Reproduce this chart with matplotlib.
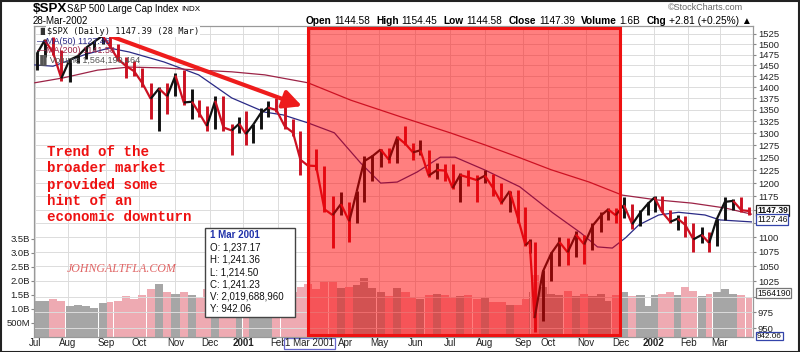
import numpy as np
import matplotlib
matplotlib.use("Agg")
import matplotlib.pyplot as plt
from matplotlib.patches import Rectangle
from matplotlib.collections import LineCollection
from matplotlib.ticker import FixedLocator, NullLocator
import matplotlib.transforms as mtransforms

plt.rcParams['font.family'] = ['Liberation Sans', 'DejaVu Sans']

# ---------------- data ----------------
HOLIDAYS = ['2000-07-04', '2000-09-04', '2000-11-23', '2000-12-25', '2001-01-01',
            '2001-01-15', '2001-02-19', '2001-04-13', '2001-05-28', '2001-07-04',
            '2001-09-03', '2001-09-11', '2001-09-12', '2001-09-13', '2001-09-14',
            '2001-11-22', '2001-12-25', '2002-01-01', '2002-01-21', '2002-02-18',
            '2002-03-29']
FIRST_DAY = '2000-07-03'
prior_close = 1454.60

week_end = ['2000-07-07', '2000-07-14', '2000-07-21', '2000-07-28', '2000-08-04', '2000-08-11',
            '2000-08-18', '2000-08-25', '2000-09-01', '2000-09-08', '2000-09-15', '2000-09-22',
            '2000-09-29', '2000-10-06', '2000-10-13', '2000-10-20', '2000-10-27', '2000-11-03',
            '2000-11-10', '2000-11-17', '2000-11-24', '2000-12-01', '2000-12-08', '2000-12-15',
            '2000-12-22', '2000-12-29',
            '2001-01-05', '2001-01-12', '2001-01-19', '2001-01-26', '2001-02-02', '2001-02-09',
            '2001-02-16', '2001-02-23', '2001-03-02', '2001-03-09', '2001-03-16', '2001-03-23',
            '2001-03-30', '2001-04-06', '2001-04-12', '2001-04-20', '2001-04-27', '2001-05-04',
            '2001-05-11', '2001-05-18', '2001-05-25', '2001-06-01', '2001-06-08', '2001-06-15',
            '2001-06-22', '2001-06-29', '2001-07-06', '2001-07-13', '2001-07-20', '2001-07-27',
            '2001-08-03', '2001-08-10', '2001-08-17', '2001-08-24', '2001-08-31', '2001-09-07',
            '2001-09-10', '2001-09-21', '2001-09-28', '2001-10-05', '2001-10-12', '2001-10-19',
            '2001-10-26', '2001-11-02', '2001-11-09', '2001-11-16', '2001-11-23', '2001-11-30',
            '2001-12-07', '2001-12-14', '2001-12-21', '2001-12-28',
            '2002-01-04', '2002-01-11', '2002-01-18', '2002-01-25', '2002-02-01', '2002-02-08',
            '2002-02-15', '2002-02-22', '2002-03-01', '2002-03-08', '2002-03-15', '2002-03-22',
            '2002-03-28']

week_high = [1482, 1512, 1517, 1487, 1465, 1475, 1494, 1509, 1525, 1530, 1500, 1470,
             1460, 1445, 1410, 1400, 1410, 1433, 1440, 1395, 1372, 1358, 1380, 1380,
             1320, 1335,
             1347, 1320, 1355, 1370, 1376, 1360, 1330, 1305, 1265, 1268, 1233, 1175,
             1183, 1165, 1185, 1253, 1255, 1268, 1270, 1294, 1316, 1280, 1287, 1265,
             1240, 1238, 1237, 1219, 1225, 1215, 1226, 1218, 1200, 1185, 1187, 1155,
             1097, 1092, 1043, 1075, 1100, 1099, 1111, 1104, 1125, 1145, 1152, 1152,
             1173, 1160, 1150, 1165,
             1176, 1176, 1150, 1140, 1138, 1125, 1118, 1110, 1132, 1173, 1170, 1174,
             1154]
week_low = [1440, 1470, 1475, 1413, 1412, 1455, 1465, 1487, 1500, 1490, 1460, 1420,
            1425, 1400, 1330, 1305, 1340, 1380, 1360, 1330, 1335, 1305, 1310, 1305,
            1255, 1300,
            1275, 1280, 1310, 1335, 1345, 1310, 1295, 1215, 1215, 1225, 1145, 1081,
            1140, 1091, 1125, 1165, 1205, 1232, 1240, 1240, 1275, 1245, 1255, 1212,
            1208, 1205, 1188, 1165, 1195, 1165, 1200, 1175, 1160, 1145, 1125, 1085,
            1072, 944, 962, 1026, 1050, 1052, 1065, 1054, 1078, 1110, 1130, 1125,
            1135, 1115, 1120, 1140,
            1145, 1145, 1125, 1112, 1100, 1075, 1090, 1075, 1085, 1130, 1150, 1145,
            1140]
week_close = [1478.9, 1509.9, 1480.2, 1419.9, 1462.9, 1471.8, 1491.7, 1506.5, 1520.8, 1494.5,
              1465.8, 1448.7, 1436.5, 1408.9, 1374.2, 1396.9, 1379.6, 1426.7, 1366.0, 1367.7,
              1341.8, 1315.2, 1369.9, 1312.2, 1305.9, 1320.3,
              1298.4, 1318.3, 1342.5, 1354.9, 1349.5, 1314.8, 1301.5, 1245.9, 1234.2, 1233.4,
              1150.5, 1139.8, 1160.3, 1128.4, 1183.5, 1243.0, 1253.1, 1266.6, 1245.7, 1292.0,
              1277.9, 1260.7, 1265.0, 1214.4, 1225.4, 1224.4, 1190.6, 1215.7, 1210.9, 1205.8,
              1214.4, 1190.2, 1162.0, 1184.9, 1133.6, 1085.8, 1092.5, 965.8, 1040.9, 1071.4,
              1091.7, 1073.5, 1104.6, 1087.2, 1120.3, 1138.7, 1150.3, 1139.5, 1158.3, 1123.1,
              1144.9, 1161.0,
              1172.5, 1145.6, 1127.6, 1133.3, 1122.2, 1096.2, 1104.2, 1089.8, 1131.8, 1164.3,
              1166.2, 1148.7, 1147.4]
# average daily volume per week, billions of shares
week_volume = [1.30, 1.30, 1.35, 1.30, 1.10, 1.15, 1.10, 1.05, 1.20, 1.25, 1.30, 1.45, 1.35,
               1.50, 1.70, 1.90, 1.60, 1.55, 1.60, 1.50, 1.40, 1.70, 1.75, 1.80, 1.60, 1.35,
               1.85, 1.65, 1.70, 1.60, 1.70, 1.55, 1.60, 1.80, 1.90, 1.70, 2.00, 2.00, 1.75,
               1.80, 1.85, 2.10, 1.75, 1.60, 1.45, 1.75, 1.60, 1.40, 1.35, 1.50, 1.55, 1.50,
               1.40, 1.45, 1.50, 1.35, 1.40, 1.25, 1.25, 1.15, 1.15, 1.35, 1.60, 2.20, 1.80,
               1.55, 1.50, 1.65, 1.45, 1.55, 1.45, 1.55, 1.30, 1.50, 1.60, 1.45, 1.50, 1.10,
               1.50, 1.55, 1.60, 1.50, 1.80, 1.65, 1.45, 1.55, 1.60, 1.70, 1.55, 1.50, 1.40]

ma50_dates = ['2000-07-03', '2000-07-19', '2000-08-15', '2000-09-06', '2000-09-22', '2000-10-23',
              '2000-11-21', '2000-12-20', '2001-01-22', '2001-02-06', '2001-02-28', '2001-03-22',
              '2001-04-16', '2001-05-02', '2001-05-16', '2001-06-04', '2001-06-22', '2001-07-06',
              '2001-08-01', '2001-08-30', '2001-10-04', '2001-10-29', '2001-11-12', '2001-11-26',
              '2001-12-06', '2001-12-18', '2002-01-07', '2002-01-24', '2002-02-15', '2002-03-01',
              '2002-03-28']
ma50_values = [1451, 1448, 1475, 1491, 1481.5, 1458, 1428, 1376, 1345, 1339, 1322, 1301,
               1239, 1200, 1202, 1221.5, 1251, 1251, 1225.5, 1193, 1144, 1107.5, 1083, 1081,
               1099, 1122, 1140, 1145, 1140, 1131, 1127.46]
ma200_dates = ['2000-07-03', '2000-07-27', '2000-08-25', '2000-09-22', '2000-10-23', '2000-11-21',
               '2000-12-20', '2001-01-22', '2001-02-28', '2001-04-05', '2001-05-18', '2001-07-02',
               '2001-08-01', '2001-08-30', '2001-10-03', '2001-11-05', '2001-12-04', '2002-01-04',
               '2002-02-05', '2002-03-06', '2002-03-28']
ma200_values = [1410, 1421, 1439, 1446, 1444, 1439, 1435, 1428, 1410, 1371, 1335, 1301,
                1276, 1250, 1226, 1202, 1177, 1168, 1162, 1153, 1141.58]

month_starts = ['2000-07-03', '2000-08-01', '2000-09-01', '2000-10-02', '2000-11-01', '2000-12-01',
                '2001-01-02', '2001-02-01', '2001-03-01', '2001-04-02', '2001-05-01', '2001-06-01',
                '2001-07-02', '2001-08-01', '2001-09-04', '2001-10-01', '2001-11-01', '2001-12-03',
                '2002-01-02', '2002-02-01', '2002-03-01']
month_labels = ['Jul', 'Aug', 'Sep', 'Oct', 'Nov', 'Dec', '2001', 'Feb', 'Mar', 'Apr', 'May',
                'Jun', 'Jul', 'Aug', 'Sep', 'Oct', 'Nov', 'Dec', '2002', 'Feb', 'Mar']
price_ticks = list(range(950, 1526, 25))
hidden_price_labels = [1000, 1125, 1150]   # covered by the value flags in the reference
volume_ticks = [0.5, 1.0, 1.5, 2.0, 2.5, 3.0, 3.5]
volume_labels = ['500M', '1.0B', '1.5B', '2.0B', '2.5B', '3.0B', '3.5B']
recession = ('2001-03-01', '2001-11-30')
crosshair_date = '2001-03-01'
annotation_lines = ['Trend of the', 'broader market', 'provided some', 'hint of an',
                    'economic downturn']
tooltip_lines = ['O: 1,237.17', 'H: 1,241.36', 'L: 1,214.50', 'C: 1,241.23',
                 'V: 2,019,688,960', 'Y: 942.06']

# ---------------- helpers ----------------
def tidx(d):
    return np.busday_count(FIRST_DAY, np.array(d, dtype='datetime64[D]'), holidays=HOLIDAYS)

def monday(d):
    d = np.array(d, dtype='datetime64[D]')
    wd = (d.astype('int64') + 3) % 7
    return d - wd.astype('timedelta64[D]')

W, H = 800, 352
def fx(x):
    return x / W
def fy(y):
    return 1 - y / H

fig = plt.figure(figsize=(8, 3.52), dpi=100)
fig.patch.set_facecolor('white')

ax_v = fig.add_axes([fx(34), fy(337), (753 - 34) / W, (337 - 26) / H])
ax_p = ax_v.twinx()

w_start = tidx(monday(week_end))
w_end = tidx(week_end)
w_mid = (w_start + w_end) / 2.0
closes = np.array(week_close)
prev = np.concatenate([[prior_close], closes[:-1]])
up = closes >= prev

# ---- volume ----
vol_colors = np.where(up, '#a6a6a6', '#eeaab2')
ax_v.bar(w_start - 0.45, week_volume, width=(w_end - w_start) + 0.9, align='edge',
         color=vol_colors, edgecolor='none', zorder=2)
ax_v.set_ylim(0, 311 / 28.0)
ax_v.set_xlim(-0.5, 434)
ax_v.yaxis.set_major_locator(FixedLocator(volume_ticks))
ax_v.set_yticklabels(volume_labels)
ax_v.tick_params(axis='y', labelsize=6.8, length=2, color='#888888', pad=1, labelcolor='#222222')
ax_v.set_facecolor('white')

m_idx = tidx(month_starts)
ax_v.xaxis.set_major_locator(NullLocator())
xtrans = mtransforms.blended_transform_factory(ax_v.transData, ax_v.transAxes)
for x, lab in zip(m_idx, month_labels):
    ax_v.axvline(x, color='#dcdcdc', lw=0.7, zorder=0)
    if lab == 'Mar' and x == tidx(crosshair_date):
        continue
    ax_v.text(x, -6.5 / 311, lab, transform=xtrans, fontsize=7,
              fontweight='bold' if lab in ('2001', '2002') else 'normal',
              ha='center', va='center', color='#222222', clip_on=False)

# ---- price ----
ax_p.set_yscale('log')
ax_p.set_ylim(937, 1544.7)
ax_p.yaxis.set_major_locator(FixedLocator(price_ticks))
ax_p.yaxis.set_minor_locator(NullLocator())
ax_p.set_yticklabels(['' if t in hidden_price_labels else str(t) for t in price_ticks])
ax_p.tick_params(axis='y', labelsize=6.8, length=2, color='#888888', pad=1.5, labelcolor='#222222')
for t in price_ticks:
    ax_p.axhline(t, color='#dcdcdc', lw=0.7, zorder=0)

bar_colors = np.where(up, '#111111', '#cc1122')
ax_p.vlines(w_mid, week_low, week_high, colors=bar_colors, lw=2.1, zorder=4)
pts = np.column_stack([w_mid, closes])
segs = [pts[i:i + 2] for i in range(len(pts) - 1)]
ax_p.add_collection(LineCollection(segs, colors=bar_colors[1:], lw=1.6, zorder=4))
ax_p.plot(tidx(ma50_dates), ma50_values, color='#2a2a86', lw=0.9, zorder=3)
ax_p.plot(tidx(ma200_dates), ma200_values, color='#9c2346', lw=0.9, zorder=3)

for axx in (ax_p, ax_v):
    for sp in axx.spines.values():
        sp.set_color('#999999')
        sp.set_linewidth(0.8)

# ---- recession box ----
trans = mtransforms.blended_transform_factory(ax_p.transData, ax_p.transAxes)
x0 = tidx(recession[0]) - 1.2
x1 = tidx(recession[1]) + 0.5
ax_p.add_patch(Rectangle((x0, 0.005), x1 - x0, 0.99, transform=trans, facecolor='#ff0000',
                         alpha=0.5, edgecolor='none', zorder=6))
ax_p.add_patch(Rectangle((x0, 0.005), x1 - x0, 0.99, transform=trans, facecolor='none',
                         edgecolor='#ee1111', lw=2.2, zorder=7))

# ---- trend arrow ----
ax_p.annotate('', xy=(161.5, 1358), xytext=(47, 1518), zorder=8,
              arrowprops=dict(arrowstyle='-|>,head_length=1.1,head_width=0.55',
                              color='#ee1c1c', lw=3.0, shrinkA=0, shrinkB=0))

# ---- legend inside plot ----
fig.text(fx(47), fy(31.5), '$SPX (Daily) 1147.39 (28 Mar)', family='DejaVu Sans Mono',
         fontsize=6.2, va='center', ha='left', color='#111111', zorder=9,
         bbox=dict(facecolor='white', edgecolor='none', pad=0.6))
fig.text(fx(37), fy(31.5), '\u2590\u258c', fontsize=5, va='center', ha='left', color='#333333',
         family='DejaVu Sans')
fig.text(fx(37), fy(41), '\u2014MA(50) 1127.46', fontsize=6.5, va='center', ha='left',
         color='#2a2a86', zorder=9)
fig.text(fx(37), fy(50.5), '\u2014MA(200) 1141.58', fontsize=6.5, va='center', ha='left',
         color='#9c2346', zorder=9)
fig.text(fx(37), fy(60), '\u2590\u258cVolume 1,564,190,464', fontsize=6.5, va='center', ha='left',
         color='#555555', zorder=9, family=['Liberation Sans', 'DejaVu Sans'])

# ---- red annotation text ----
for i, line in enumerate(annotation_lines):
    fig.text(fx(47), fy(152 + i * 16.25), line, family='Liberation Mono', fontweight='bold',
             fontsize=10.2, color='#ee1111', va='center', ha='left', zorder=9)

fig.text(fx(67), fy(269), 'JOHNGALTFLA.COM', family='Liberation Serif', style='italic',
         fontsize=8.6, color='#e06464', va='center', ha='left', zorder=9)

# ---- tooltip ----
fig.add_artist(Rectangle((fx(205), fy(317)), 90 / W, 89 / H, transform=fig.transFigure,
                         facecolor='white', edgecolor='#444444', lw=1.0, zorder=10))
fig.text(fx(210), fy(235), '1 Mar 2001', fontsize=7, fontweight='bold', color='#2233aa',
         va='center', ha='left', zorder=11)
for i, line in enumerate(tooltip_lines):
    fig.text(fx(210), fy(247.5 + i * 12.3), line, fontsize=7, color='#111111',
             va='center', ha='left', zorder=11)

# ---- crosshair date on x axis ----
ax_v.text(tidx(crosshair_date), -6.5 / 311, '1 Mar 2001', transform=xtrans, fontsize=7,
          ha='center', va='center', color='#222222', zorder=12, clip_on=False,
          bbox=dict(facecolor='white', edgecolor='#6666cc', pad=0.6, lw=0.9))

# ---- right value flags ----
def vbox(y, s, ec, bold=False, size=6.2):
    fig.text(fx(757), fy(y), s, fontsize=size, fontweight='bold' if bold else 'normal',
             color='#111111', va='center', ha='left', zorder=12,
             bbox=dict(boxstyle='square,pad=0.1', facecolor='white', edgecolor=ec, lw=0.9))
vbox(210.5, '1147.39', '#222222', bold=True)
vbox(219.5, '1127.46', '#3344aa')
vbox(293, '1564190', '#777777')
vbox(336, '942.06', '#3344aa', size=5.9)

# ---- header ----
fig.text(fx(33), fy(9), '$SPX', fontsize=9.6, fontweight='bold', va='center', ha='left')
fig.text(fx(67), fy(9.5), 'S&P 500 Large Cap Index', fontsize=6.9, va='center', ha='left')
fig.text(fx(181), fy(9.5), 'INDX', fontsize=5.8, va='center', ha='left')
fig.text(fx(33), fy(20.5), '28-Mar-2002', fontsize=7.0, va='center', ha='left')
fig.text(fx(743), fy(7), '\u00a9StockCharts.com', fontsize=6.5, va='center', ha='right',
         color='#666666')

pieces = [('Open', 'bold'), ('1144.58', 'normal'), ('High', 'bold'), ('1154.45', 'normal'),
          ('Low', 'bold'), ('1144.58', 'normal'), ('Close', 'bold'), ('1147.39', 'normal'),
          ('Volume', 'bold'), ('1.6B', 'normal'), ('Chg', 'bold'),
          ('+2.81 (+0.25%) \u25b2', 'normal')]
fig.canvas.draw()
r = fig.canvas.get_renderer()
texts = []
x = 325.0
for k, (s, w) in enumerate(pieces):
    t = fig.text(fx(x), fy(20.5), s, fontsize=7.3, fontweight=w, va='center', ha='left',
                 family=['Liberation Sans', 'DejaVu Sans'])
    bb = t.get_window_extent(renderer=r)
    texts.append(t)
    x = bb.x1 + (3 if w == 'bold' else 6)
shift = 752 - (x - 6)
for t in texts:
    px0 = t.get_position()[0] * W + shift
    t.set_x(fx(px0))

# outer border
fig.add_artist(Rectangle((0.0008, 0.001), 0.9984, 0.997, transform=fig.transFigure,
                         facecolor='none', edgecolor='#222222', lw=1.5, zorder=20))

fig.savefig('out.png', dpi=100, facecolor='white')
